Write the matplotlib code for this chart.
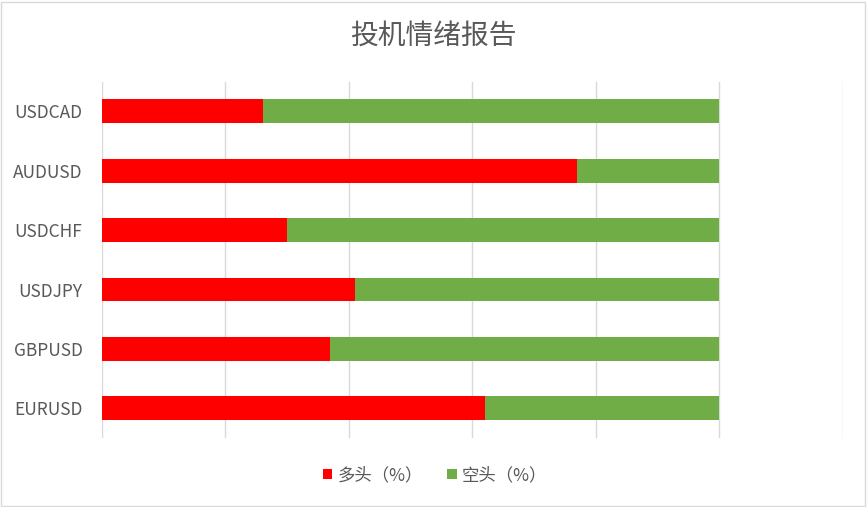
import numpy as np
import matplotlib.pyplot as plt
from matplotlib.patches import Rectangle

plt.rcParams['font.family'] = ['Noto Sans CJK SC', 'DejaVu Sans']

# 数据（从下到上）
pairs = ['EURUSD', 'GBPUSD', 'USDJPY', 'USDCHF', 'AUDUSD', 'USDCAD']
long_pct = [62, 37, 41, 30, 77, 26]
short_pct = [38, 63, 59, 70, 23, 74]

Rouge = '#FF0000'
Vert = '#70AD47'
Gris = '#595959'

fig = plt.figure(figsize=(8.67, 5.07), dpi=100)
ax = fig.add_axes([0.1176, 0.136, 0.8547, 0.703])

y = np.arange(len(pairs))
ax.barh(y, long_pct, height=0.4, color=Rouge, label='多头（%）', zorder=3)
ax.barh(y, short_pct, left=long_pct, height=0.4, color=Vert, label='空头（%）', zorder=3)

ax.set_xlim(0, 120)
ax.set_ylim(-0.5, len(pairs) - 0.5)
ax.set_xticks(np.arange(0, 121, 20))
ax.xaxis.grid(True, color='#D9D9D9', linewidth=1, zorder=0)
ax.set_xticklabels([])
ax.tick_params(axis='x', length=0)
ax.set_yticks(y)
ax.set_yticklabels(pairs, color=Gris, fontsize=12.5)
ax.tick_params(axis='y', length=0, pad=14)
for s in ax.spines.values():
    s.set_visible(False)

fig.suptitle('投机情绪报告', x=0.5, y=0.96, fontsize=20, color=Gris)

leg = fig.legend(loc='center', bbox_to_anchor=(0.502, 0.063), ncol=2, frameon=False,
                 fontsize=12.5, handlelength=0.55, handleheight=0.55, handletextpad=0.3,
                 columnspacing=1.4)
for t in leg.get_texts():
    t.set_color(Gris)

# cadre du graphique
fig.patches.append(Rectangle((0.001, 0.002), 0.997, 0.995, transform=fig.transFigure,
                             fill=False, edgecolor='#D9D9D9', linewidth=1))

fig.savefig('out.png', dpi=100)
